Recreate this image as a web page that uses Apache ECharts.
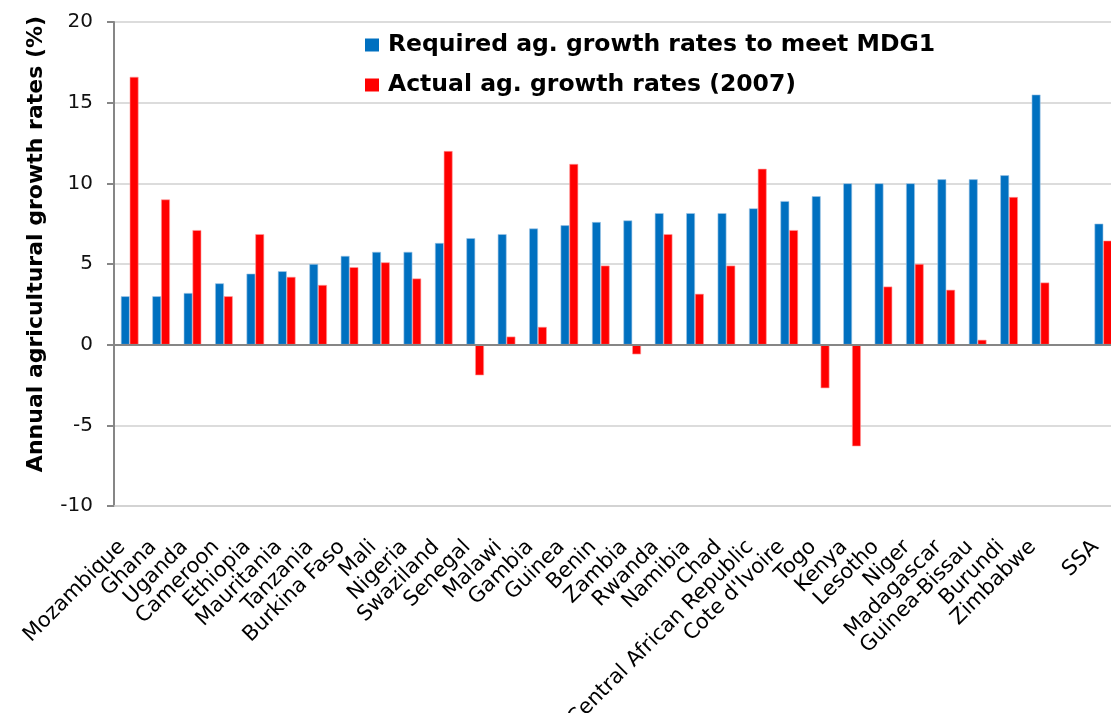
<!DOCTYPE html>
<html>
<head>
<meta charset="utf-8">
<script src="https://cdn.jsdelivr.net/npm/echarts@6/dist/echarts.min.js"></script>
<style>
  html, body { margin: 0; padding: 0; background: #fff; }
  #chart { width: 1111px; height: 713px; }
</style>
</head>
<body>
<div id="chart"></div>
<script>
// categories (empty slot before SSA, as in the original)
const countries = ['Mozambique', 'Ghana', 'Uganda', 'Cameroon', 'Ethiopia', 'Mauritania', 'Tanzania',
    'Burkina Faso', 'Mali', 'Nigeria', 'Swaziland', 'Senegal', 'Malawi', 'Gambia', 'Guinea', 'Benin',
    'Zambia', 'Rwanda', 'Namibia', 'Chad', 'Central African Republic', "Cote d'Ivoire", 'Togo', 'Kenya',
    'Lesotho', 'Niger', 'Madagascar', 'Guinea-Bissau', 'Burundi', 'Zimbabwe', '', 'SSA'];

const required = [3.0, 3.0, 3.2, 3.8, 4.4, 4.55, 5.0, 5.5, 5.75, 5.75, 6.3, 6.6, 6.85, 7.2, 7.4, 7.6,
    7.7, 8.15, 8.15, 8.15, 8.45, 8.9, 9.2, 10.0, 10.0, 10.0, 10.25, 10.25, 10.5, 15.5, null, 7.5];

const actual = [16.6, 9.0, 7.1, 3.0, 6.85, 4.2, 3.7, 4.8, 5.1, 4.1, 12.0, -1.9, 0.5, 1.1, 11.2, 4.9,
    -0.6, 6.85, 3.15, 4.9, 10.9, 7.1, -2.7, -6.3, 3.6, 5.0, 3.4, 0.3, 9.15, 3.85, null, 6.45];

const yTicks = { min: -10, max: 20, step: 5 };

const seriesNames = ['Required ag. growth rates to meet MDG1', 'Actual ag. growth rates (2007)'];

const font = 'DejaVu Sans';

var myChart = echarts.init(document.getElementById('chart'));

var option = {
    backgroundColor: '#fff',
    animation: false,
    textStyle: { fontFamily: font },
    grid: {
        left: 114,
        top: 22,
        bottom: 207,
        right: -8,
        containLabel: false,
        outerBoundsMode: 'none' // labels run off the bottom, like the original
    },
    legend: {
        orient: 'vertical',
        left: 365,
        top: 31,
        padding: 0,
        itemWidth: 14,
        itemHeight: 13,
        itemGap: 12,
        icon: 'rect',
        itemStyle: { borderWidth: 0 },
        textStyle: {
            fontFamily: font,
            fontSize: 23.5,
            fontWeight: 'bold',
            color: '#000',
            lineHeight: 28,
            padding: [0, 0, 0, 4]
        },
        data: seriesNames
    },
    // y axis title, placed by hand like the original
    graphic: [{
        type: 'text',
        x: 36,
        y: 244,
        rotation: Math.PI / 2,
        style: {
            text: 'Annual agricultural growth rates (%)',
            fontFamily: font,
            fontSize: 22,
            fontWeight: 'bold',
            fill: '#000',
            align: 'center',
            verticalAlign: 'middle'
        }
    }],
    xAxis: {
        type: 'category',
        data: countries,
        // bottom line stands in for the -10 gridline
        axisLine: { show: true, onZero: false, lineStyle: { color: '#d0d0d0', width: 1.5 } },
        axisTick: { show: false },
        axisLabel: {
            interval: 0,
            rotate: 45,
            margin: 30,
            padding: [0, 11, 0, 0],
            fontFamily: font,
            fontSize: 21,
            color: '#000'
        },
        splitLine: { show: false }
    },
    yAxis: {
        type: 'value',
        min: yTicks.min,
        max: yTicks.max,
        interval: yTicks.step,
        axisLine: { show: true, lineStyle: { color: '#868686', width: 2 } },
        axisTick: { show: true, length: 7, lineStyle: { color: '#868686', width: 2 } },
        axisLabel: {
            margin: 21,
            fontFamily: font,
            fontSize: 20,
            color: '#111'
        },
        splitLine: { lineStyle: { color: '#d0d0d0', width: 1.5 } }
    },
    series: [{
        name: seriesNames[0],
        type: 'bar',
        data: required,
        barWidth: '28%',
        barGap: '0%',
        itemStyle: { color: '#0070c0', borderColor: '#9fc6e6', borderWidth: 0.6 },
        markLine: {
            silent: true,
            symbol: 'none',
            label: { show: false },
            lineStyle: { color: '#868686', width: 2, type: 'solid' },
            data: [{ yAxis: 0 }]
        }
    }, {
        name: seriesNames[1],
        type: 'bar',
        data: actual,
        barWidth: '28%',
        itemStyle: { color: '#ff0000', borderColor: '#ff9a9a', borderWidth: 0.6 }
    }]
};

myChart.setOption(option);
</script>
</body>
</html>
